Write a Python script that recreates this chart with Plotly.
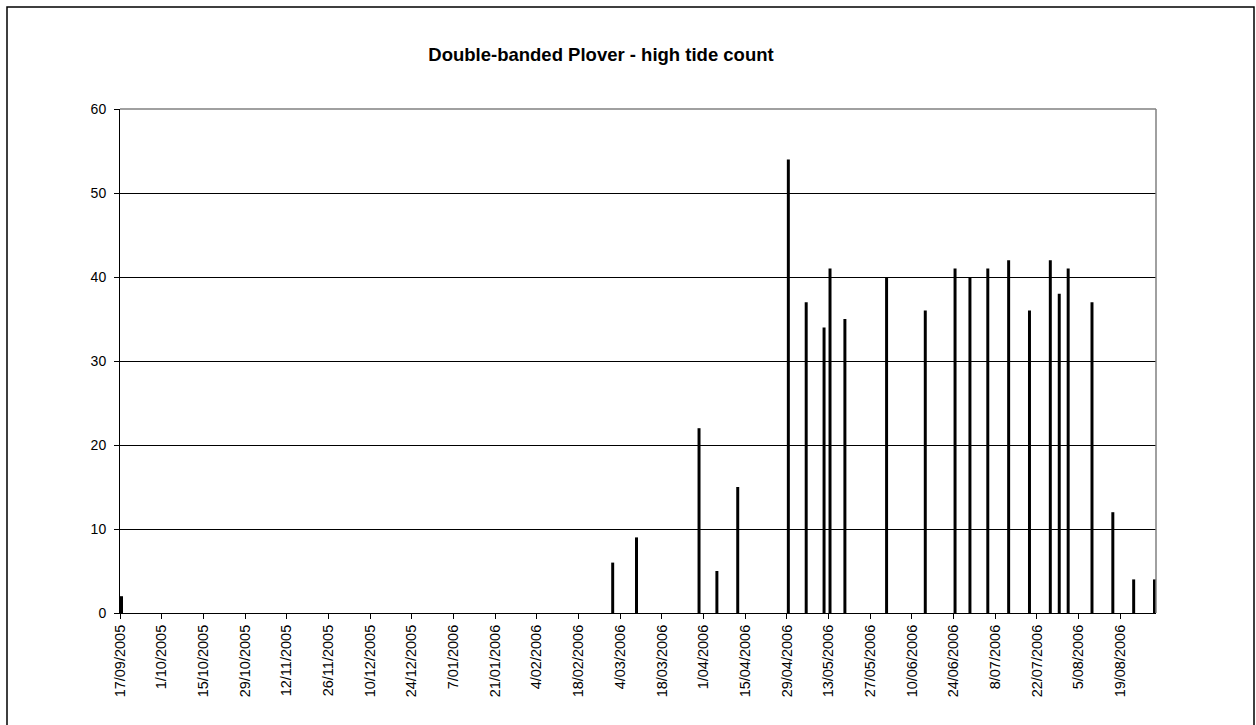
import pandas as pd
import plotly.graph_objects as go

# ---- data ----
count_dates = [
    "2005-09-17", "2006-03-01", "2006-03-09", "2006-03-30", "2006-04-05",
    "2006-04-12", "2006-04-29", "2006-05-05", "2006-05-11", "2006-05-13",
    "2006-05-18", "2006-06-01", "2006-06-14", "2006-06-24", "2006-06-29",
    "2006-07-05", "2006-07-12", "2006-07-19", "2006-07-26", "2006-07-29",
    "2006-08-01", "2006-08-09", "2006-08-16", "2006-08-23", "2006-08-30",
]
counts = [
    2, 6, 9, 22, 5,
    15, 54, 37, 34, 41,
    35, 40, 36, 41, 40,
    41, 42, 36, 42, 38,
    41, 37, 12, 4, 4,
]
axis_start = "2005-09-17"
axis_end = "2006-08-31"
title_text = "Double-banded Plover - high tide count"

DAY_MS = 86400000
# each date occupies one day slot; bar sits in the middle of it
x_vals = pd.to_datetime(count_dates) + pd.Timedelta(hours=12)

W, H = 1256, 725
L, R, T, B = 120, 100, 109, 112
pw, ph = W - L - R, H - T - B

def px_x(p):
    return (p - L) / pw

def px_y(p):
    return (H - B - p) / ph

font_family = "Liberation Sans, Arial, sans-serif"

fig = go.Figure(
    go.Bar(
        x=x_vals,
        y=counts,
        width=DAY_MS,
        marker=dict(color="black", line=dict(width=0)),
        hoverinfo="x+y",
    )
)

fig.update_layout(
    width=W,
    height=H,
    margin=dict(l=L, r=R, t=T, b=B, pad=0),
    paper_bgcolor="white",
    plot_bgcolor="white",
    showlegend=False,
    font=dict(family=font_family, size=14, color="black"),
    title=dict(
        text="<b>" + title_text + "</b>",
        font=dict(family=font_family, size=18.5, color="black"),
        xref="paper",
        x=px_x(601),
        xanchor="center",
        yref="container",
        y=1 - 55 / H,
        yanchor="middle",
    ),
    xaxis=dict(
        type="date",
        range=[axis_start, axis_end],
        tick0=axis_start,
        dtick=14 * DAY_MS,
        tickformat="%-d/%m/%Y",
        tickangle=-90,
        ticks="outside",
        ticklen=5,
        tickcolor="black",
        showgrid=False,
        showline=True,
        linecolor="black",
        linewidth=1,
        zeroline=False,
        tickfont=dict(size=14.5),
    ),
    yaxis=dict(
        range=[0, 60],
        dtick=10,
        tick0=0,
        ticks="outside",
        ticklen=5,
        tickcolor="black",
        ticklabelstandoff=5,
        showgrid=True,
        gridcolor="black",
        gridwidth=1,
        showline=True,
        linecolor="black",
        linewidth=1,
        zeroline=False,
        tickfont=dict(size=14),
    ),
    shapes=[
        # grey plot-area border (top and right)
        dict(type="line", xref="paper", yref="paper", x0=0, x1=1, y0=1, y1=1,
             line=dict(color="#808080", width=1.5), layer="above"),
        dict(type="line", xref="paper", yref="paper", x0=1, x1=1, y0=0, y1=1,
             line=dict(color="#808080", width=1.5), layer="above"),
        # outer chart frame
        dict(type="rect", xref="paper", yref="paper",
             x0=px_x(7), x1=px_x(1254), y0=px_y(740), y1=px_y(7),
             line=dict(color="black", width=1.5), layer="above"),
    ],
)

fig.write_html(
    "out.html",
    config={"displayModeBar": False},
    post_script="document.body.style.margin='0';document.body.style.padding='0';",
)
